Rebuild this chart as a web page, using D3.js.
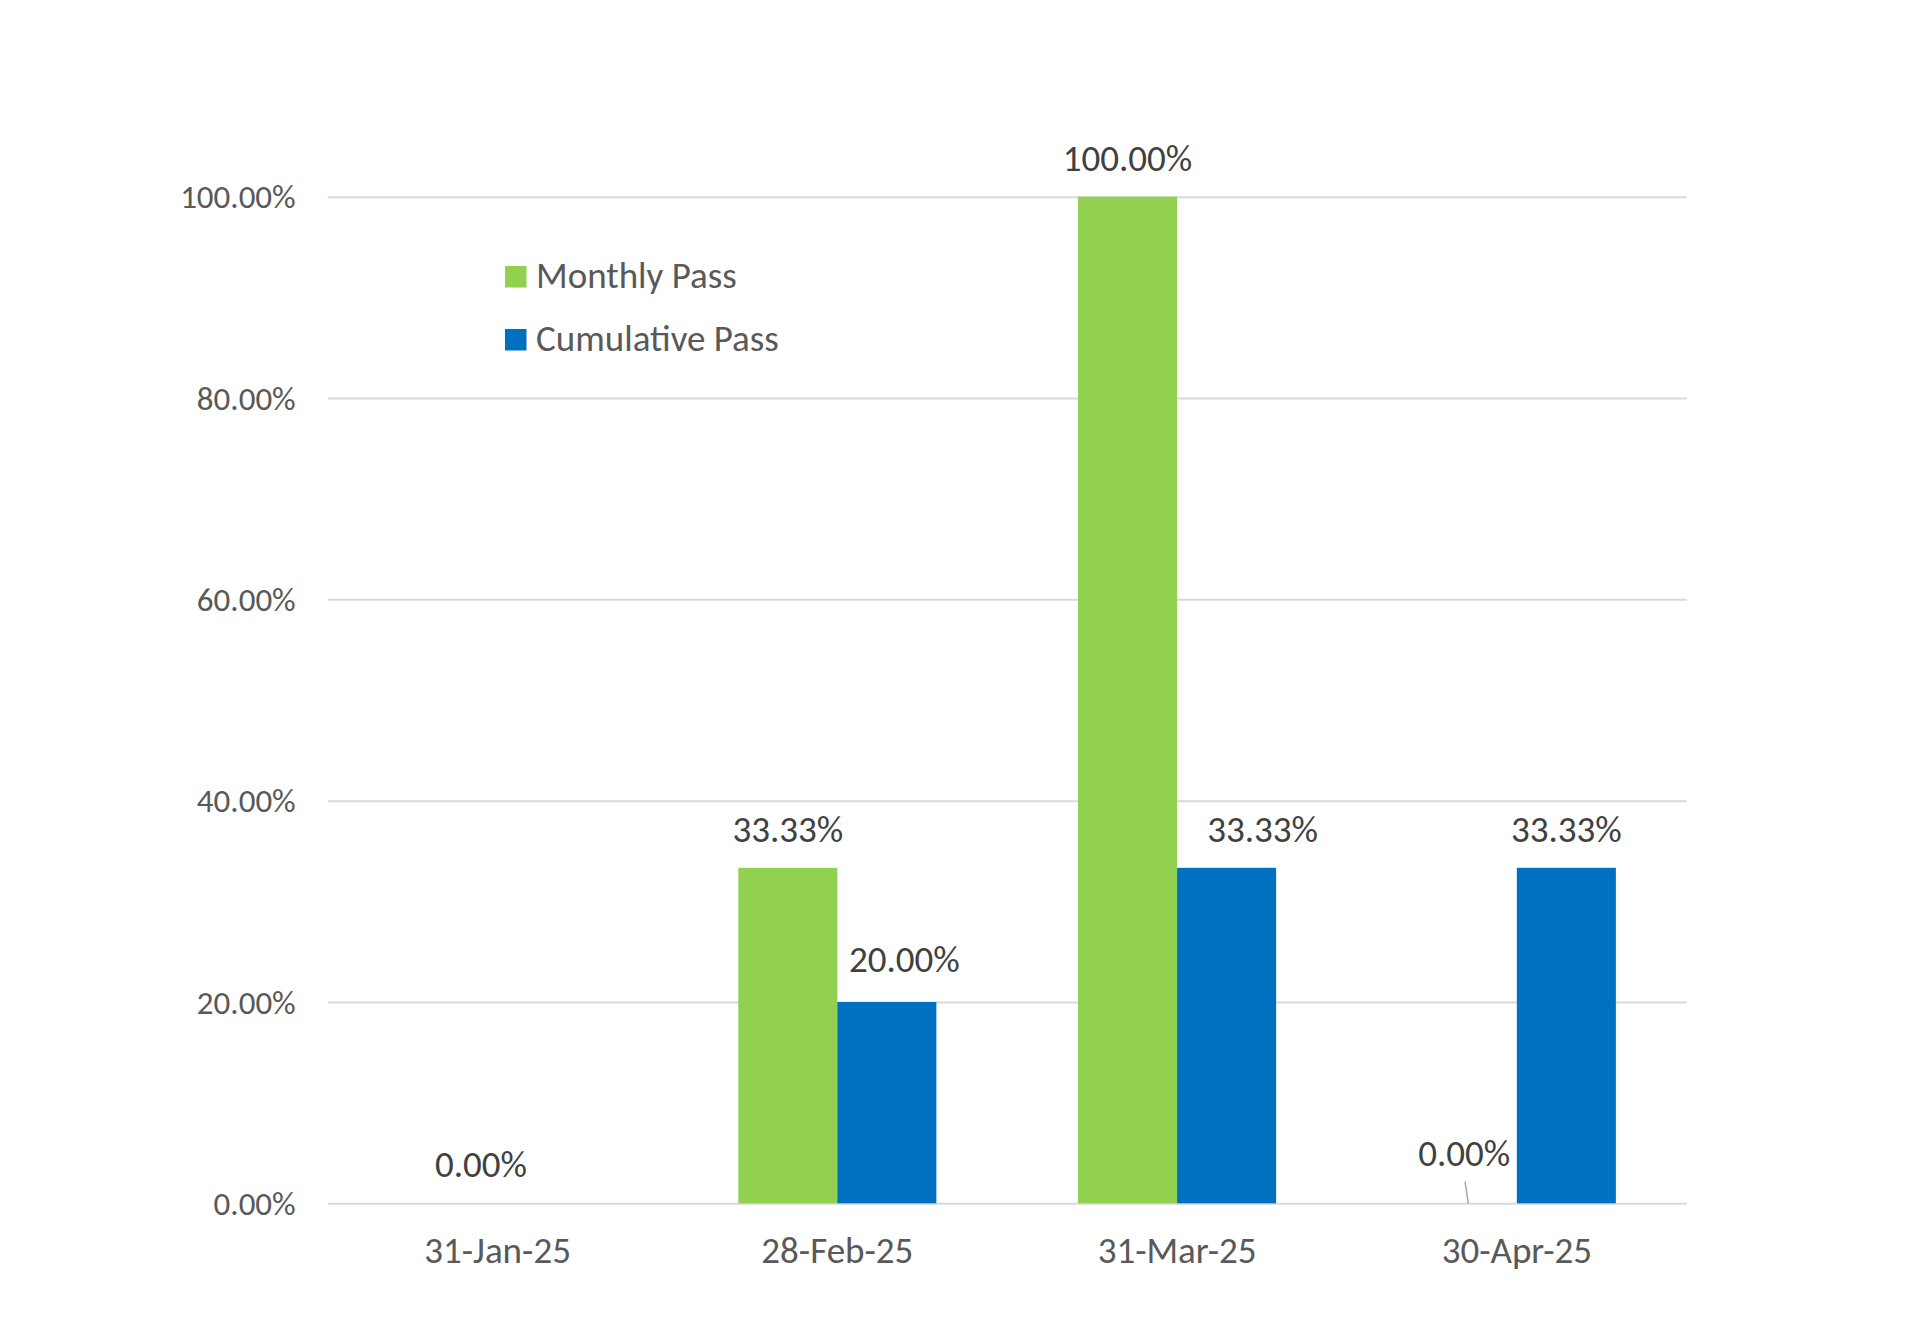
<!DOCTYPE html>
<html>
<head>
<meta charset="utf-8">
<script src="https://cdn.jsdelivr.net/npm/d3@7"></script>
<style>
  html, body { margin: 0; padding: 0; background: #fff; }
  svg { display: block; }
  text { font-family: Carlito, Calibri, Lato, sans-serif; }
</style>
</head>
<body>
<svg id="chart" width="1927" height="1333"></svg>
<script>
// ---- data ----
const categories = ["31-Jan-25", "28-Feb-25", "31-Mar-25", "30-Apr-25"];
const monthlyPass = [0, 33.33, 100, 0];
const cumulativePass = [null, 20, 33.33, 33.33];
const seriesNames = ["Monthly Pass", "Cumulative Pass"];
const yTicks = [0, 20, 40, 60, 80, 100];

// ---- style / layout ----
const colors = ["#92D050", "#0070C0"];
const plot = { left: 327.7, right: 1686.7, top: 196.7, bottom: 1203.3 };
// manual label nudges (as in the source chart)
const labelNudges = { "0-0": [33, -1], "0-3": [-3, -12], "1-1": [17.5, -4], "1-2": [36, 0] };

const svg = d3.select("#chart");

const x0 = d3.scaleBand().domain(categories)
  .range([plot.left, plot.right]).paddingInner(0.417).paddingOuter(0.2085);
const x1 = d3.scaleBand().domain([0, 1]).range([0, x0.bandwidth()]).padding(0);
const y = d3.scaleLinear().domain([0, 100]).range([plot.bottom, plot.top]);

// gridlines + y labels
const yAxis = d3.axisLeft(y).tickValues(yTicks)
  .tickSize(-(plot.right - plot.left)).tickPadding(32)
  .tickFormat(d => d.toFixed(2) + "%");
const gy = svg.append("g").attr("transform", `translate(${plot.left},0)`).call(yAxis);
gy.select(".domain").remove();
gy.selectAll(".tick line").attr("stroke", "#D9D9D9").attr("stroke-width", 2);
gy.selectAll(".tick text").attr("fill", "#595959").style("font-size", "33px")
  .attr("dy", "0.34em");

// x labels
const xAxis = d3.axisBottom(x0).tickSize(0).tickPadding(0);
const gx = svg.append("g").attr("transform", `translate(0,${plot.bottom})`).call(xAxis);
gx.select(".domain").remove();
gx.selectAll(".tick text").attr("fill", "#595959").style("font-size", "37px")
  .attr("y", 59.4).attr("dy", 0);

// bars
const series = [monthlyPass, cumulativePass];
const rows = [];
series.forEach((vals, s) => vals.forEach((v, i) => {
  if (v !== null) rows.push({ s, i, v, cat: categories[i] });
}));

svg.append("g").selectAll("rect").data(rows.filter(d => d.v > 0)).join("rect")
  .attr("x", d => x0(d.cat) + x1(d.s))
  .attr("y", d => y(d.v))
  .attr("width", x1.bandwidth())
  .attr("height", d => y(0) - y(d.v))
  .attr("fill", d => colors[d.s]);

// leader line for nudged zero label (April monthly)
rows.filter(d => d.s === 0 && d.i === 3).forEach(d => {
  const cx = x0(d.cat) + x1(d.s) + x1.bandwidth() / 2;
  svg.append("line")
    .attr("x1", cx - 2.3).attr("y1", y(d.v) - 21.6)
    .attr("x2", cx + 1).attr("y2", y(d.v))
    .attr("stroke", "#A6A6A6").attr("stroke-width", 1.5);
});

// data labels
svg.append("g").selectAll("text").data(rows).join("text")
  .attr("x", d => x0(d.cat) + x1(d.s) + x1.bandwidth() / 2 + (labelNudges[d.s + "-" + d.i] || [0, 0])[0])
  .attr("y", d => y(d.v) - 25.7 + (labelNudges[d.s + "-" + d.i] || [0, 0])[1])
  .attr("text-anchor", "middle")
  .attr("fill", "#404040")
  .style("font-size", "37px")
  .text(d => d.v.toFixed(2) + "%");

// legend
const lg = svg.append("g").attr("transform", "translate(505,266)");
seriesNames.forEach((name, k) => {
  const row = lg.append("g").attr("transform", `translate(0,${k * 63})`);
  row.append("rect").attr("width", 21.5).attr("height", 21.5).attr("fill", colors[k]);
  row.append("text").attr("x", 31).attr("y", 21.7)
    .attr("fill", "#595959").style("font-size", "37px").text(name);
});
</script>
</body>
</html>
